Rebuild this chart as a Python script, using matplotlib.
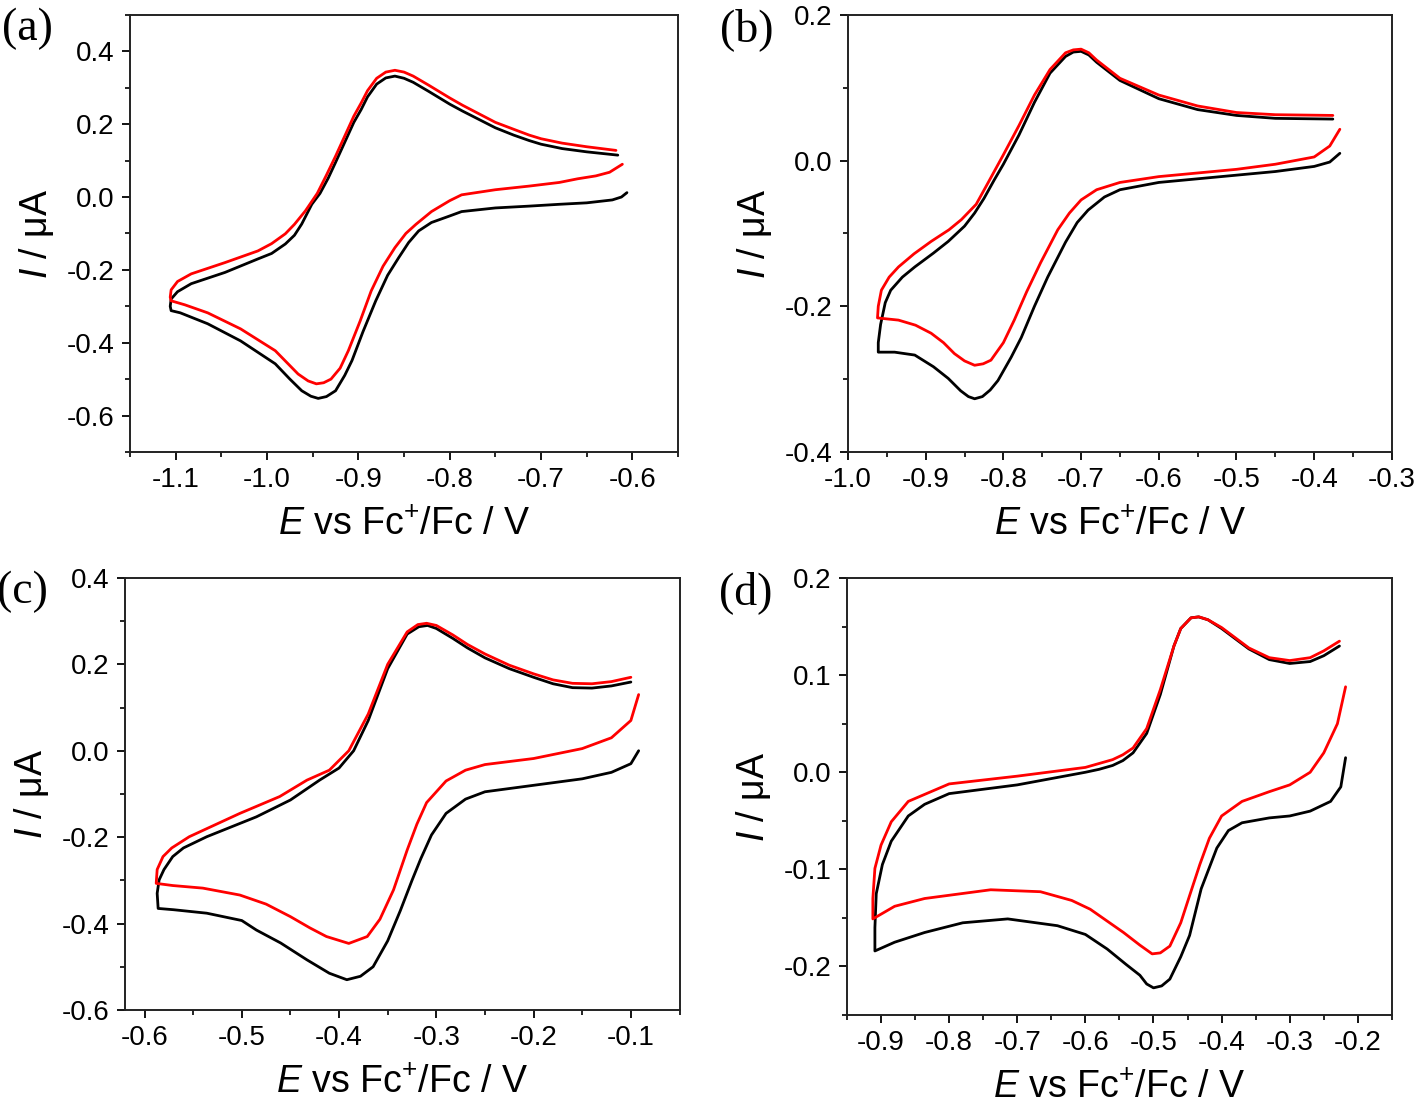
import matplotlib
matplotlib.use("Agg")
import matplotlib.pyplot as plt
from matplotlib.ticker import MultipleLocator, FormatStrFormatter

plt.rcParams['font.family'] = ['Liberation Sans', 'DejaVu Sans']
plt.rcParams['mathtext.fontset'] = 'custom'
plt.rcParams['mathtext.rm'] = 'Liberation Sans'
plt.rcParams['mathtext.it'] = 'Liberation Sans:italic'

# ---- data: (E / V, I / uA) along each loop ----
# panel (a)
a_black_E = [-0.616, -0.65, -0.677, -0.70, -0.713, -0.73, -0.75, -0.786, -0.80, -0.823, -0.84, -0.85, -0.86, -0.87,
             -0.88, -0.89, -0.897, -0.905, -0.915, -0.925, -0.933, -0.942, -0.951, -0.962, -0.97, -0.98, -0.995,
             -1.01, -1.046, -1.083, -1.098, -1.105, -1.106, -1.105, -1.095, -1.065, -1.029, -0.991, -0.975,
             -0.962, -0.952, -0.944, -0.935, -0.925, -0.915, -0.907, -0.895, -0.881, -0.868, -0.856, -0.845,
             -0.834, -0.82, -0.80, -0.787, -0.75, -0.713, -0.68, -0.65, -0.622, -0.612, -0.606]
a_black_I = [0.115, 0.124, 0.133, 0.145, 0.155, 0.17, 0.19, 0.236, 0.255, 0.29, 0.315, 0.326, 0.332, 0.327,
             0.31, 0.275, 0.24, 0.205, 0.15, 0.095, 0.052, 0.01, -0.02, -0.074, -0.105, -0.129, -0.155,
             -0.17, -0.207, -0.238, -0.26, -0.28, -0.30, -0.312, -0.318, -0.348, -0.395, -0.458, -0.5,
             -0.532, -0.547, -0.553, -0.548, -0.532, -0.49, -0.449, -0.37, -0.285, -0.215, -0.167, -0.125,
             -0.093, -0.07, -0.052, -0.04, -0.03, -0.025, -0.02, -0.016, -0.008, 0.0, 0.012]
a_red_E = [-0.618, -0.65, -0.677, -0.70, -0.713, -0.73, -0.75, -0.786, -0.80, -0.823, -0.84, -0.85, -0.86, -0.87,
           -0.88, -0.89, -0.897, -0.905, -0.915, -0.925, -0.935, -0.945, -0.958, -0.97, -0.98, -0.995, -1.01,
           -1.046, -1.083, -1.098, -1.105, -1.106, -1.105, -1.09, -1.065, -1.029, -0.991, -0.966, -0.955,
           -0.946, -0.938, -0.93, -0.92, -0.911, -0.898, -0.886, -0.873, -0.86, -0.848, -0.837, -0.82, -0.80,
           -0.787, -0.75, -0.713, -0.68, -0.66, -0.64, -0.625, -0.611]
a_red_I = [0.128, 0.138, 0.148, 0.16, 0.17, 0.186, 0.205, 0.252, 0.272, 0.307, 0.332, 0.343, 0.348, 0.343,
           0.326, 0.292, 0.258, 0.222, 0.167, 0.112, 0.06, 0.01, -0.038, -0.075, -0.101, -0.128, -0.148,
           -0.18, -0.211, -0.232, -0.255, -0.275, -0.285, -0.296, -0.318, -0.362, -0.422, -0.486, -0.505,
           -0.513, -0.51, -0.50, -0.47, -0.422, -0.34, -0.258, -0.19, -0.139, -0.10, -0.075, -0.04, -0.01,
           0.006, 0.02, 0.03, 0.04, 0.05, 0.058, 0.068, 0.09]

# panel (b)
b_black_E = [-0.376, -0.45, -0.50, -0.55, -0.60, -0.65, -0.68, -0.69, -0.70, -0.71, -0.72, -0.74, -0.76, -0.78,
             -0.80, -0.812, -0.825, -0.837, -0.85, -0.871, -0.89, -0.914, -0.93, -0.945, -0.952, -0.958, -0.961,
             -0.961, -0.94, -0.914, -0.89, -0.871, -0.855, -0.845, -0.837, -0.827, -0.817, -0.807, -0.79,
             -0.777, -0.76, -0.743, -0.72, -0.705, -0.691, -0.67, -0.65, -0.60, -0.55, -0.50, -0.45, -0.40,
             -0.38, -0.367]
b_black_I = [0.057, 0.058, 0.062, 0.07, 0.085, 0.11, 0.135, 0.145, 0.150, 0.149, 0.143, 0.12, 0.08, 0.035,
             -0.005, -0.027, -0.052, -0.072, -0.09, -0.111, -0.127, -0.146, -0.16, -0.178, -0.195, -0.225, -0.25,
             -0.263, -0.263, -0.267, -0.283, -0.299, -0.316, -0.324, -0.327, -0.324, -0.315, -0.302, -0.27,
             -0.243, -0.20, -0.16, -0.112, -0.085, -0.068, -0.05, -0.04, -0.03, -0.025, -0.02, -0.015, -0.008,
             -0.002, 0.01]
b_red_E = [-0.376, -0.45, -0.50, -0.55, -0.60, -0.65, -0.68, -0.69, -0.70, -0.71, -0.72, -0.74, -0.76, -0.78,
           -0.80, -0.82, -0.835, -0.854, -0.87, -0.893, -0.915, -0.935, -0.947, -0.957, -0.961, -0.962,
           -0.935, -0.913, -0.893, -0.877, -0.863, -0.85, -0.837, -0.826, -0.816, -0.80, -0.786, -0.77,
           -0.752, -0.73, -0.715, -0.70, -0.68, -0.65, -0.60, -0.55, -0.50, -0.45, -0.40, -0.38, -0.367]
b_red_I = [0.062, 0.063, 0.066, 0.075, 0.09, 0.113, 0.138, 0.148, 0.153, 0.152, 0.148, 0.125, 0.09, 0.048,
           0.008, -0.031, -0.06, -0.081, -0.095, -0.111, -0.128, -0.146, -0.16, -0.178, -0.20, -0.216,
           -0.219, -0.226, -0.237, -0.25, -0.265, -0.275, -0.281, -0.279, -0.274, -0.25, -0.219, -0.18,
           -0.14, -0.095, -0.072, -0.054, -0.04, -0.03, -0.022, -0.017, -0.012, -0.005, 0.005, 0.02, 0.043]

# panel (c)
c_black_E = [-0.10, -0.12, -0.14, -0.16, -0.18, -0.20, -0.225, -0.25, -0.268, -0.283, -0.30, -0.309, -0.318, -0.33,
             -0.35, -0.37, -0.385, -0.40, -0.42, -0.45, -0.485, -0.536, -0.56, -0.571, -0.58, -0.585, -0.587,
             -0.586, -0.57, -0.536, -0.50, -0.485, -0.46, -0.433, -0.41, -0.392, -0.378, -0.365, -0.35,
             -0.337, -0.325, -0.316, -0.305, -0.29, -0.27, -0.25, -0.20, -0.15, -0.12, -0.10, -0.092]
c_black_I = [0.159, 0.15, 0.145, 0.146, 0.155, 0.17, 0.19, 0.215, 0.238, 0.26, 0.283, 0.29, 0.287, 0.27,
             0.19, 0.07, 0.0, -0.04, -0.068, -0.114, -0.153, -0.199, -0.225, -0.245, -0.275, -0.299, -0.33,
             -0.365, -0.368, -0.376, -0.393, -0.415, -0.445, -0.484, -0.515, -0.530, -0.522, -0.50, -0.44,
             -0.37, -0.30, -0.25, -0.195, -0.145, -0.112, -0.095, -0.08, -0.065, -0.05, -0.03, 0.0]
c_red_E = [-0.10, -0.12, -0.14, -0.16, -0.18, -0.20, -0.225, -0.25, -0.268, -0.283, -0.30, -0.31, -0.319, -0.33,
           -0.35, -0.37, -0.39, -0.41, -0.433, -0.461, -0.502, -0.554, -0.572, -0.581, -0.587, -0.588, -0.571,
           -0.54, -0.502, -0.475, -0.45, -0.43, -0.413, -0.39, -0.371, -0.358, -0.344, -0.33, -0.32, -0.31,
           -0.29, -0.27, -0.25, -0.20, -0.15, -0.12, -0.10, -0.092]
c_red_I = [0.17, 0.16, 0.155, 0.156, 0.164, 0.178, 0.198, 0.224, 0.246, 0.268, 0.29, 0.295, 0.292, 0.275,
           0.20, 0.085, 0.0, -0.045, -0.068, -0.106, -0.145, -0.199, -0.225, -0.245, -0.275, -0.307, -0.312,
           -0.318, -0.334, -0.355, -0.384, -0.41, -0.43, -0.446, -0.43, -0.39, -0.322, -0.23, -0.17, -0.12,
           -0.07, -0.045, -0.032, -0.018, 0.005, 0.03, 0.07, 0.13]

# panel (d)
d_black_E = [-0.227, -0.25, -0.27, -0.30, -0.33, -0.36, -0.40, -0.42, -0.434, -0.445, -0.46, -0.47, -0.49, -0.51,
             -0.53, -0.545, -0.56, -0.58, -0.60, -0.70, -0.80, -0.836, -0.86, -0.885, -0.898, -0.907, -0.909,
             -0.909, -0.88, -0.836, -0.78, -0.714, -0.641, -0.60, -0.568, -0.54, -0.52, -0.51, -0.50, -0.488,
             -0.476, -0.46, -0.447, -0.43, -0.407, -0.39, -0.37, -0.33, -0.30, -0.27, -0.24, -0.225, -0.218]
d_black_I = [0.130, 0.12, 0.114, 0.112, 0.116, 0.127, 0.148, 0.157, 0.160, 0.159, 0.148, 0.13, 0.08, 0.04,
             0.02, 0.012, 0.007, 0.003, 0.0, -0.013, -0.022, -0.033, -0.045, -0.071, -0.095, -0.125, -0.16,
             -0.184, -0.175, -0.165, -0.155, -0.151, -0.158, -0.167, -0.182, -0.198, -0.209, -0.218, -0.222,
             -0.22, -0.213, -0.19, -0.168, -0.12, -0.078, -0.06, -0.052, -0.047, -0.045, -0.04, -0.03, -0.015,
             0.015]
d_red_E = [-0.227, -0.25, -0.27, -0.30, -0.33, -0.36, -0.40, -0.42, -0.433, -0.445, -0.46, -0.47, -0.49, -0.51,
           -0.53, -0.545, -0.56, -0.58, -0.60, -0.70, -0.80, -0.86, -0.885, -0.90, -0.909, -0.912, -0.912,
           -0.88, -0.836, -0.739, -0.666, -0.62, -0.593, -0.544, -0.52, -0.502, -0.49, -0.476, -0.46, -0.447,
           -0.432, -0.418, -0.40, -0.37, -0.33, -0.30, -0.27, -0.25, -0.23, -0.218]
d_red_I = [0.135, 0.125, 0.118, 0.115, 0.118, 0.128, 0.149, 0.157, 0.160, 0.159, 0.148, 0.13, 0.085, 0.045,
           0.025, 0.018, 0.013, 0.009, 0.005, -0.004, -0.012, -0.03, -0.051, -0.075, -0.099, -0.13, -0.151,
           -0.138, -0.130, -0.121, -0.123, -0.132, -0.141, -0.165, -0.178, -0.187, -0.186, -0.179, -0.155,
           -0.127, -0.095, -0.068, -0.045, -0.03, -0.02, -0.013, 0.0, 0.02, 0.05, 0.088]

panels = [
    dict(tag='(a)', rect=[0.0917, 0.591, 0.3865, 0.3955], xlim=(-1.15, -0.55), ylim=(-0.7, 0.5),
         ymaj=0.2, ymin=0.1, black=(a_black_E, a_black_I), red=(a_red_E, a_red_I)),
    dict(tag='(b)', rect=[0.598, 0.591, 0.3836, 0.3955], xlim=(-1.0, -0.3), ylim=(-0.4, 0.2),
         ymaj=0.2, ymin=0.1, black=(b_black_E, b_black_I), red=(b_red_E, b_red_I)),
    dict(tag='(c)', rect=[0.0882, 0.086, 0.391, 0.391], xlim=(-0.62, -0.05), ylim=(-0.6, 0.4),
         ymaj=0.2, ymin=0.1, black=(c_black_E, c_black_I), red=(c_red_E, c_red_I)),
    dict(tag='(d)', rect=[0.5973, 0.0814, 0.3843, 0.3955], xlim=(-0.95, -0.15), ylim=(-0.25, 0.2),
         ymaj=0.1, ymin=0.05, black=(d_black_E, d_black_I), red=(d_red_E, d_red_I)),
]

fig = plt.figure(figsize=(14.18, 11.05), dpi=100)

for p in panels:
    ax = fig.add_axes(p['rect'])
    ax.plot(*p['black'], color='black', lw=2, solid_joinstyle='round', solid_capstyle='round')
    ax.plot(*p['red'], color='red', lw=2, solid_joinstyle='round', solid_capstyle='round')
    ax.set_xlim(*p['xlim'])
    ax.set_ylim(*p['ylim'])
    ax.xaxis.set_major_locator(MultipleLocator(0.1))
    ax.xaxis.set_minor_locator(MultipleLocator(0.05))
    ax.yaxis.set_major_locator(MultipleLocator(p['ymaj']))
    ax.yaxis.set_minor_locator(MultipleLocator(p['ymin']))
    ax.xaxis.set_major_formatter(FormatStrFormatter('%.1f'))
    ax.yaxis.set_major_formatter(FormatStrFormatter('%.1f'))
    ax.tick_params(which='major', direction='out', length=6, width=1.3, labelsize=20, pad=5)
    ax.tick_params(which='minor', direction='out', length=3.5, width=1.2)
    for s in ax.spines.values():
        s.set_linewidth(1.4)
        s.set_color('#222222')
    ax.set_xlabel(r'$\it{E}$ vs Fc$^{+}$/Fc / V', fontsize=27, labelpad=10)
    ax.set_ylabel(r'$\it{I}$ / μA', fontsize=27, labelpad=8)
    x0, y0, w, h = p['rect']
    fig.text(x0 - 0.09, y0 + h - 0.013, p['tag'], family='Liberation Serif', fontsize=33,
             ha='left', va='center')

fig.savefig('out.png', dpi=100)
